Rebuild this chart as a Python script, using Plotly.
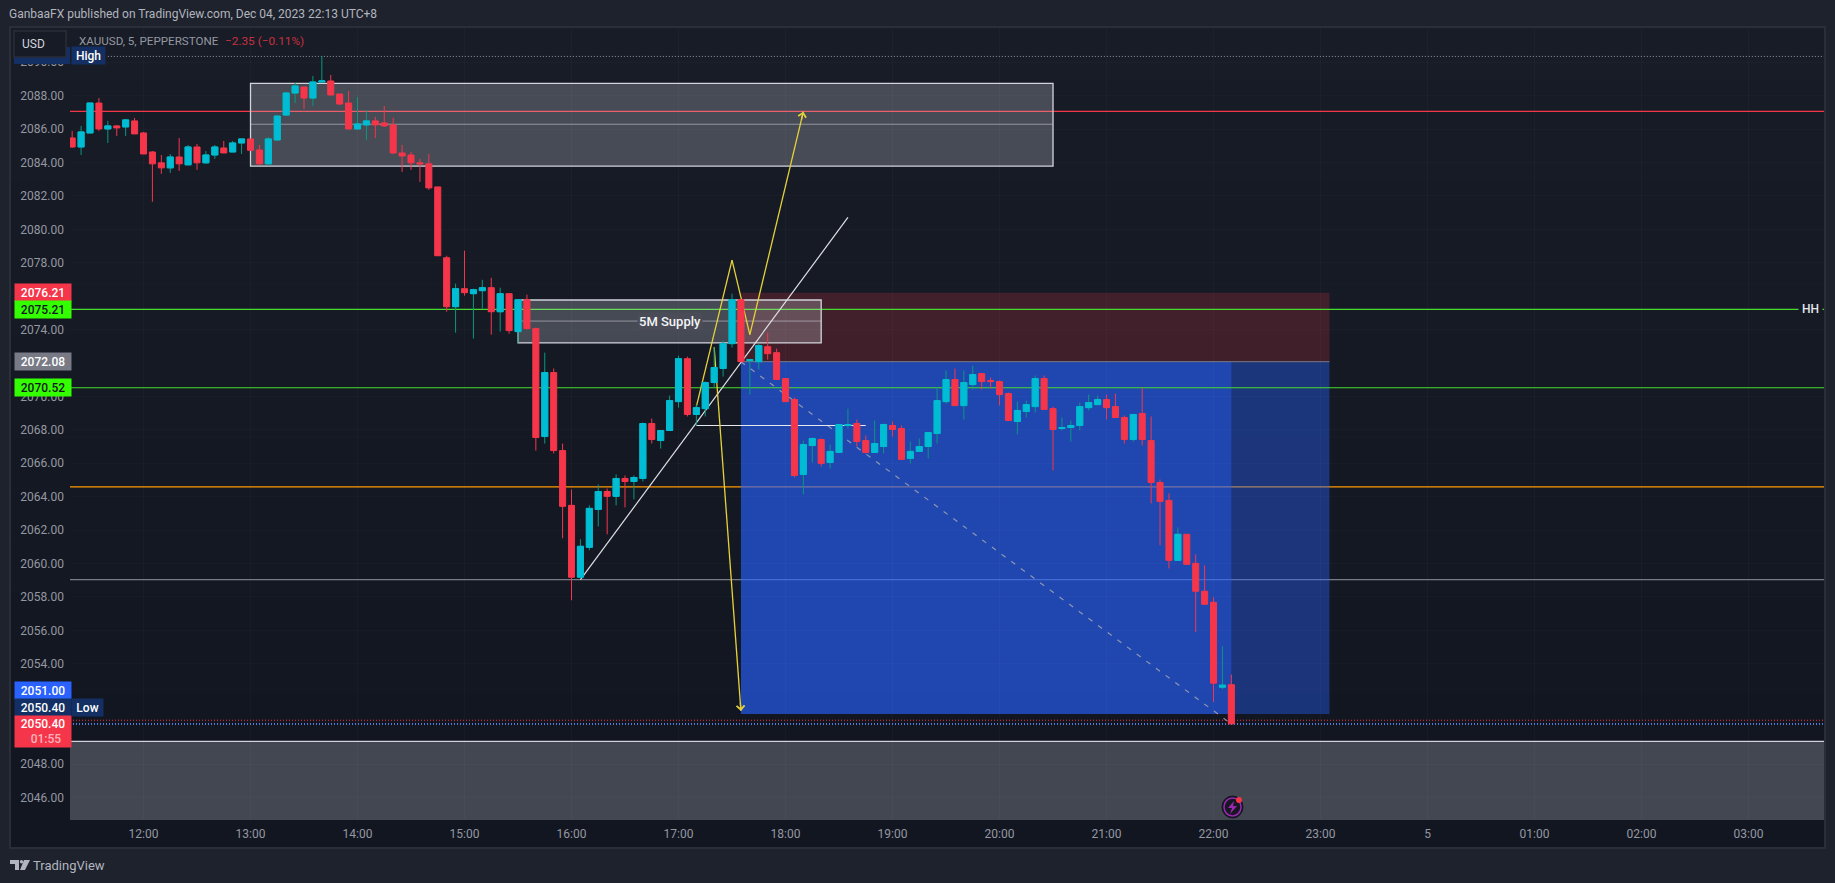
import pandas as pd
import plotly.graph_objects as go

# 5 minute bars, first bar 11:20
bar_opens = [2085.47,2084.93,2085.77,2087.56,2086.01,2086.19,2086.13,2086.49,2085.77,2084.63,
    2083.98,2083.68,2084.33,2083.86,2084.93,2083.98,2084.45,2084.87,2084.63,2085.17,
    2085.41,2084.75,2083.92,2085.35,2086.84,2088.16,2088.52,2087.86,2088.82,2088.88,
    2088.10,2087.56,2086.01,2086.25,2086.49,2086.37,2086.25,2084.57,2084.45,2083.98,
    2083.92,2082.54,2078.30,2075.37,2076.45,2076.15,2076.33,2076.51,2075.07,2076.15,
    2073.88,2075.79,2074.06,2067.60,2071.43,2066.76,2063.48,2059.18,2060.97,2063.24,
    2064.31,2064.02,2065.09,2064.91,2065.09,2068.38,2067.36,2067.96,2069.69,2072.26,
    2068.92,2069.27,2070.83,2071.67,2073.16,2075.79,2072.14,2072.08,2072.98,2072.62,
    2071.07,2069.81,2065.33,2067.06,2067.42,2066.05,2066.65,2068.26,2068.38,2067.36,
    2066.65,2067.00,2068.26,2068.08,2066.29,2066.71,2067.00,2067.78,2069.69,2071.01,
    2069.45,2070.71,2071.37,2070.95,2070.89,2070.17,2068.50,2069.10,2069.39,2071.07,
    2069.27,2068.08,2068.14,2068.26,2069.33,2069.51,2069.81,2069.39,2068.74,2067.42,
    2068.98,2067.36,2064.85,2063.78,2060.19,2061.75,2060.01,2058.34,2057.68,2052.60,
    2052.75]
bar_highs = [2085.89,2086.19,2087.56,2087.86,2086.49,2086.25,2086.61,2086.67,2085.83,2084.69,
    2084.45,2084.51,2085.47,2085.05,2085.11,2084.69,2085.05,2085.29,2085.29,2085.41,
    2085.41,2085.05,2085.53,2086.78,2088.22,2088.76,2088.52,2089.18,2090.37,2089.24,
    2088.10,2088.28,2087.92,2087.14,2086.73,2087.38,2086.67,2085.05,2084.63,2084.22,
    2084.51,2082.54,2078.42,2076.75,2078.72,2076.45,2076.98,2077.10,2076.51,2076.15,
    2075.79,2076.09,2074.12,2072.62,2071.67,2067.18,2064.43,2061.45,2063.48,2064.73,
    2064.49,2065.33,2065.27,2065.27,2068.44,2068.68,2067.96,2070.05,2072.44,2072.38,
    2069.51,2070.89,2072.92,2073.34,2076.15,2075.79,2072.20,2073.16,2073.82,2072.86,
    2071.07,2069.93,2067.36,2067.54,2067.48,2067.12,2068.32,2069.27,2068.62,2067.66,
    2068.56,2068.38,2068.50,2068.26,2067.30,2067.48,2067.84,2070.53,2071.55,2071.67,
    2071.55,2071.84,2071.37,2071.13,2070.95,2070.23,2069.69,2069.75,2071.25,2071.25,
    2069.39,2068.74,2068.56,2069.63,2070.11,2070.05,2070.11,2070.17,2068.86,2068.92,
    2070.51,2068.80,2065.03,2064.20,2062.16,2061.75,2060.55,2059.89,2057.98,2055.05,
    2053.36]
bar_lows = [2084.87,2084.45,2085.77,2085.89,2085.17,2085.59,2085.59,2085.71,2084.51,2081.65,
    2083.32,2083.38,2083.50,2083.86,2083.56,2083.92,2084.22,2084.57,2084.63,2084.51,
    2084.69,2083.86,2083.80,2085.35,2086.78,2087.56,2087.20,2087.38,2088.82,2088.04,
    2087.44,2085.95,2085.95,2085.35,2085.47,2086.13,2084.51,2083.44,2083.56,2082.84,
    2082.36,2078.42,2075.07,2073.82,2076.03,2073.46,2075.25,2073.70,2073.88,2073.76,
    2073.20,2074.00,2066.76,2067.18,2066.59,2061.51,2057.80,2059.18,2060.79,2062.22,
    2061.75,2063.48,2063.36,2063.84,2064.91,2067.18,2066.88,2067.96,2069.33,2068.80,
    2068.26,2068.80,2070.53,2071.19,2072.92,2072.08,2070.11,2071.61,2072.20,2071.01,
    2069.69,2065.15,2064.14,2066.05,2065.81,2065.69,2066.65,2068.08,2067.00,2066.59,
    2066.65,2066.59,2067.60,2066.23,2065.99,2066.71,2066.29,2067.18,2069.57,2069.45,
    2068.62,2070.41,2070.41,2070.47,2069.45,2068.56,2067.72,2068.74,2069.04,2069.22,
    2065.57,2067.96,2067.30,2067.96,2069.16,2069.51,2068.62,2068.74,2067.18,2067.30,
    2067.06,2063.60,2061.09,2059.71,2060.19,2059.95,2055.89,2057.56,2051.71,2052.48,
    2050.40]
bar_closes = [2084.93,2085.83,2087.56,2086.01,2086.19,2086.07,2086.55,2085.71,2084.51,2083.92,
    2083.68,2084.33,2083.92,2084.93,2083.98,2084.45,2084.93,2084.57,2085.17,2085.41,
    2084.73,2083.92,2085.41,2086.78,2088.16,2088.58,2087.86,2088.82,2088.88,2088.04,
    2087.50,2086.01,2086.31,2086.49,2086.25,2086.19,2084.57,2084.39,2083.98,2083.92,
    2082.48,2078.42,2075.37,2076.45,2076.21,2076.39,2076.51,2075.07,2076.15,2073.94,
    2075.79,2074.06,2067.54,2071.43,2066.76,2063.42,2059.18,2061.03,2063.30,2064.31,
    2064.02,2065.09,2064.91,2065.15,2068.38,2067.42,2067.96,2069.75,2072.26,2068.92,
    2069.33,2070.83,2071.73,2073.16,2075.79,2072.08,2072.20,2073.04,2072.56,2071.01,
    2069.69,2065.27,2067.12,2067.48,2065.99,2066.71,2068.32,2068.32,2067.30,2066.65,
    2067.18,2068.32,2068.02,2066.23,2066.71,2067.00,2067.84,2069.75,2071.01,2069.45,
    2070.83,2071.31,2070.89,2070.89,2070.11,2068.56,2069.16,2069.51,2071.07,2069.22,
    2068.02,2068.14,2068.26,2069.39,2069.63,2069.81,2069.33,2068.74,2067.42,2068.92,
    2067.42,2064.85,2063.72,2060.19,2061.75,2059.95,2058.34,2057.56,2052.84,2052.72,
    2050.40]

# 2050, 2052, 2072 and 2076 sit fully behind the price boxes
price_ticks = [2046,2048,2054,2056,2058,2060,2062,2064,2066,2068,2070,2074,
    2078,2080,2082,2084,2086,2088,2090]
time_ticks = ["2023-12-04 12:00","2023-12-04 13:00","2023-12-04 14:00","2023-12-04 15:00",
    "2023-12-04 16:00","2023-12-04 17:00","2023-12-04 18:00","2023-12-04 19:00","2023-12-04 20:00",
    "2023-12-04 21:00","2023-12-04 22:00","2023-12-04 23:00","2023-12-05 00:00","2023-12-05 01:00",
    "2023-12-05 02:00","2023-12-05 03:00"]
time_labels = ["12:00","13:00","14:00","15:00","16:00","17:00","18:00","19:00","20:00","21:00",
    "22:00","23:00","5","01:00","02:00","03:00"]

# drawn levels
high_price = 2090.35
low_price = 2050.40
last_dotted = 2050.62
red_level = 2087.06
green_levels = [2075.21, 2070.52]
orange_level = 2064.59
grey_level = 2059.04
floor_zone = 2049.35

top_zone = [2088.74, 2086.29, 2083.78]
supply_zone = [2075.77, 2074.51, 2073.20]
entry = 2072.08
stop = 2076.21
target = 2051.00

yellow_times = ["2023-12-04 17:10","2023-12-04 17:30","2023-12-04 17:40","2023-12-04 18:10"]
yellow_prices = [2069.39, 2078.16, 2073.70, 2087.04]
arrow_down_times = ["2023-12-04 17:20","2023-12-04 17:35"]
arrow_down_prices = [2072.94, 2051.18]
trend_times = ["2023-12-04 16:05","2023-12-04 18:35"]
trend_prices = [2059.03, 2080.71]
neck_times = ["2023-12-04 17:10","2023-12-04 18:45"]
neck_price = 2068.26

bar_times = pd.date_range("2023-12-04 11:20", periods=len(bar_opens), freq="5min")
up = [i for i in range(len(bar_opens)) if bar_closes[i] >= bar_opens[i]]
down = [i for i in range(len(bar_opens)) if bar_closes[i] < bar_opens[i]]

FONT = "Roboto"
BULL = "#00BCD4"
BEAR = "#F5364A"
TEAL = "#089981"
NAVY = "#132F63"
GREEN = "#33FF00"
GREEN_LINE = "#46DC2E"
WHITEISH = "#D1D4DC"
TICK = "#9598A1"
X0 = "2023-12-04 11:18:47"
X1 = "2023-12-05 03:42:19"


# pixel position -> paper position, plot area is 70..1824 x 28..820
def px(x):
    return (x - 70) / 1754


def py(y):
    return (820 - y) / 792


def sel(values, idx):
    return [values[i] for i in idx]


fig = go.Figure()

# up bars: teal wick under cyan body
fig.add_trace(go.Candlestick(x=bar_times[up], open=sel(bar_opens, up), high=sel(bar_highs, up),
    low=sel(bar_lows, up), close=sel(bar_closes, up), showlegend=False,
    increasing=dict(line=dict(color=TEAL, width=1), fillcolor="rgba(0,0,0,0)")))
fig.add_trace(go.Candlestick(x=bar_times[up], open=sel(bar_opens, up),
    high=[max(bar_opens[i], bar_closes[i]) for i in up],
    low=[min(bar_opens[i], bar_closes[i]) for i in up],
    close=sel(bar_closes, up), showlegend=False,
    increasing=dict(line=dict(color=BULL, width=1), fillcolor=BULL)))
fig.add_trace(go.Candlestick(x=bar_times[down], open=sel(bar_opens, down), high=sel(bar_highs, down),
    low=sel(bar_lows, down), close=sel(bar_closes, down), showlegend=False,
    decreasing=dict(line=dict(color=BEAR, width=1), fillcolor=BEAR)))

shapes = []

# panel background, slightly lighter at the top
strips = 16
for i in range(strips):
    t = i / (strips - 1)
    col = "rgb(%d,%d,%d)" % (24 - 6 * t, 28 - 6 * t, 39 - 6 * t)
    shapes.append(dict(type="rect", xref="paper", yref="paper", layer="below", x0=px(10), x1=px(1825),
        y0=py(27 + 821 * i / strips), y1=py(27 + 821 * (i + 1) / strips), fillcolor=col, line_width=0))
shapes.append(dict(type="rect", xref="paper", yref="paper", layer="below", x0=px(10), x1=px(1825),
    y0=py(27), y1=py(848), line=dict(color="#2A2E39", width=2)))


def hline(price, color, width=1, dash="solid", x0=X0, x1=X1):
    shapes.append(dict(type="line", xref="x", yref="y", layer="below", x0=x0, x1=x1, y0=price, y1=price,
        line=dict(color=color, width=width, dash=dash)))


def zone(x0, x1, y0, y1, fill, line=None):
    shapes.append(dict(type="rect", xref="x", yref="y", layer="below", x0=x0, x1=x1, y0=y0, y1=y1,
        fillcolor=fill, line=line or dict(width=0)))


hline(high_price, "#9598A1", dash="1px,2px", x0="2023-12-04 11:40")
hline(red_level, "#F23645", width=1.2)
hline(orange_level, "#FF9800", width=1.2)
hline(grey_level, "#787B86", width=1.2)
zone(X0, X1, 2040, floor_zone, "rgba(209,212,220,0.26)")
hline(floor_zone, WHITEISH, width=1.2)

# short position tool
zone("2023-12-04 17:35", "2023-12-04 23:05", entry, stop, "rgba(242,54,69,0.20)")
zone("2023-12-04 17:35", "2023-12-04 23:05", target, entry, "rgba(41,98,255,0.40)")
zone("2023-12-04 17:35", "2023-12-04 22:10", target, entry, "rgba(41,98,255,0.40)")
hline(entry, "#787B86", x0="2023-12-04 17:35", x1="2023-12-04 23:05")

hline(green_levels[0], GREEN_LINE, width=1.2)
hline(green_levels[1], GREEN_LINE, width=1.2)

white_border = dict(color=WHITEISH, width=1.3)
zone("2023-12-04 13:00", "2023-12-04 20:30", top_zone[2], top_zone[0], "rgba(209,212,220,0.26)", white_border)
hline(top_zone[1], "rgba(209,212,220,0.55)", x0="2023-12-04 13:00", x1="2023-12-04 20:30")
zone("2023-12-04 15:30", "2023-12-04 18:20", supply_zone[2], supply_zone[0], "rgba(209,212,220,0.26)", white_border)
hline(supply_zone[1], "rgba(209,212,220,0.55)", x0="2023-12-04 15:30", x1="2023-12-04 18:20")

hline(last_dotted, "#F23645", dash="1px,2px")
hline(low_price, "#5B7BE0", width=2, dash="1px,2px")

shapes.append(dict(type="line", xref="x", yref="y", layer="below", x0="2023-12-04 17:35", x1="2023-12-04 22:10",
    y0=entry, y1=low_price, line=dict(color="rgba(170,170,180,0.8)", width=1.2, dash="5px,7px")))
hline(neck_price, "#E8E9EE", x0=neck_times[0], x1=neck_times[1])
shapes.append(dict(type="line", xref="x", yref="y", layer="below", x0=trend_times[0], x1=trend_times[1],
    y0=trend_prices[0], y1=trend_prices[1], line=dict(color="#E0E1E6", width=1.2)))
for i in range(len(yellow_times) - 1):
    shapes.append(dict(type="line", xref="x", yref="y", layer="below", x0=yellow_times[i], x1=yellow_times[i + 1],
        y0=yellow_prices[i], y1=yellow_prices[i + 1], line=dict(color="#E5D23A", width=1.3)))
shapes.append(dict(type="line", xref="x", yref="y", layer="below", x0=arrow_down_times[0], x1=arrow_down_times[1],
    y0=arrow_down_prices[0], y1=arrow_down_prices[1], line=dict(color="#E5D23A", width=1.3)))

# price scale boxes that sit on top of the tick labels
shapes.append(dict(type="rect", xref="paper", yref="paper", x0=px(14), x1=px(70), y0=py(47), y1=py(64),
    fillcolor=NAVY, line_width=0))
shapes.append(dict(type="rect", xref="paper", yref="paper", x0=px(14), x1=px(66), y0=py(31), y1=py(57),
    fillcolor="#171B26", line=dict(color="#2A2E39", width=1.5)))

# TradingView logo
logo = "M%f,%f H%f V%f H%f V%f H%f Z" % (px(10), py(860), px(19), py(870), px(15), py(864), px(10))
logo += " M%f,%f H%f L%f,%f H%f Z" % (px(24), py(860), px(30), px(25), py(870), px(20))
shapes.append(dict(type="path", xref="paper", yref="paper", path=logo, fillcolor="#B2B5BE", line_width=0))
shapes.append(dict(type="circle", xref="paper", yref="paper", x0=px(19.8), x1=px(23.2), y0=py(860), y1=py(863.4),
    fillcolor="#B2B5BE", line_width=0))

# lightning badge
shapes.append(dict(type="circle", xref="paper", yref="paper", x0=px(1222), x1=px(1243), y0=py(796), y1=py(818),
    fillcolor="#131722", line=dict(color="#131722", width=1)))
shapes.append(dict(type="circle", xref="paper", yref="paper", x0=px(1224), x1=px(1241), y0=py(798), y1=py(816),
    fillcolor="#171723", line=dict(color="#9C27B0", width=1.5)))
bolt = "M%f,%f L%f,%f L%f,%f L%f,%f L%f,%f L%f,%f Z" % (px(1234), py(801), px(1228), py(808), px(1232), py(808),
    px(1230), py(814), px(1237), py(806), px(1233), py(806))
shapes.append(dict(type="path", xref="paper", yref="paper", path=bolt, fillcolor="#9C27B0", line_width=0))
shapes.append(dict(type="circle", xref="paper", yref="paper", x0=px(1236), x1=px(1242), y0=py(797), y1=py(803),
    fillcolor="#F23645", line_width=0))

annotations = []


def text(s, x, y, color, size=12, anchor="left", **kw):
    annotations.append(dict(text=s, x=px(x), y=py(y), xref="paper", yref="paper", xanchor=anchor, yanchor="middle",
        showarrow=False, font=dict(family=FONT, size=size, color=color), **kw))


def price_box(s, y, bg, color="#FFFFFF", h=17):
    annotations.append(dict(text=s, x=px(14), y=py(y), xref="paper", yref="paper", xanchor="left", yanchor="middle",
        width=56, height=h, align="center", valign="middle", bgcolor=bg, borderpad=0, showarrow=False,
        font=dict(family=FONT, size=12, color=color, weight=500)))


text("GanbaaFX published on TradingView.com, Dec 04, 2023 22:13 UTC+8", 7, 14, "#B2B5BE", size=12)
text("XAUUSD, 5, PEPPERSTONE", 76.5, 41, "#9598A1", size=11.6)
text("−2.35 (−0.11%)", 223, 41, "#C8303F", size=11.8)
text("USD", 33.5, 44, WHITEISH, size=12, anchor="center")
text("TradingView", 31, 865, "#B2B5BE", size=13)

price_box("2076.21", 292.5, "#F5364A")
price_box("2075.21", 309.5, GREEN, color="#131722")
price_box("2072.08", 361.5, "#787B86")
price_box("2070.52", 387.5, GREEN, color="#131722")
price_box("2051.00", 690.5, "#2962FF")
price_box("2050.40", 707.5, NAVY)
price_box("2050.40<br><span style='color:#FFB3BC'>  01:55</span>", 731.5, "#F5364A", h=31)

annotations.append(dict(text="High", x=px(71), y=py(55.5), xref="paper", yref="paper", xanchor="left", yanchor="middle",
    width=33, height=17, bgcolor=NAVY, borderpad=0, showarrow=False,
    font=dict(family=FONT, size=12, color="#FFFFFF", weight=500)))
annotations.append(dict(text="Low", x=px(71), y=py(707.5), xref="paper", yref="paper", xanchor="left", yanchor="middle",
    width=31, height=17, bgcolor=NAVY, borderpad=0, showarrow=False,
    font=dict(family=FONT, size=12, color="#FFFFFF", weight=500)))

annotations.append(dict(text="5M Supply", x="2023-12-04 16:55", y=supply_zone[1], xref="x", yref="y", showarrow=False,
    bgcolor="#4A4D58", borderpad=1, font=dict(family=FONT, size=13, color="#F4F5F7", weight=500)))
annotations.append(dict(text="HH", x=px(1810), y=green_levels[0], xref="paper", yref="y", xanchor="center", showarrow=False,
    bgcolor="#161A25", borderpad=3, font=dict(family=FONT, size=12, color="#E4E6EB", weight=500)))

# arrow heads of the two yellow arrows
annotations.append(dict(text="", x=yellow_times[-1], y=yellow_prices[-1], xref="x", yref="y", ax=-2.3, ay=9.7,
    showarrow=True, arrowhead=4, arrowsize=1.2, arrowwidth=1.3, arrowcolor="#E5D23A", standoff=0))
annotations.append(dict(text="", x=arrow_down_times[-1], y=arrow_down_prices[-1], xref="x", yref="y", ax=-0.7, ay=-10,
    showarrow=True, arrowhead=4, arrowsize=1.2, arrowwidth=1.3, arrowcolor="#E5D23A", standoff=0))

fig.update_layout(
    width=1835, height=883, autosize=False,
    margin=dict(l=70, r=11, t=28, b=63),
    paper_bgcolor="#1E222D", plot_bgcolor="rgba(0,0,0,0)",
    font=dict(family=FONT, size=12, color=TICK),
    showlegend=False, boxgap=0.32, boxgroupgap=0,
    shapes=shapes, annotations=annotations,
    xaxis=dict(type="date", range=[X0, X1], rangeslider=dict(visible=False), tickvals=time_ticks,
        ticktext=time_labels, showgrid=True, gridcolor="rgba(255,255,255,0.025)", zeroline=False,
        showline=False, ticks="", ticklabelstandoff=5, tickfont=dict(family=FONT, size=12, color=TICK)),
    yaxis=dict(range=[2044.65, 2092.05], tickvals=price_ticks, tickformat=".2f", showgrid=True,
        gridcolor="rgba(255,255,255,0.018)", zeroline=False, showline=False, ticks="",
        ticklabelstandoff=5, tickfont=dict(family=FONT, size=12, color=TICK)),
)

# the page's default 8px body margin would push the figure off the window
fig.write_html("out.html", config={"displayModeBar": False},
    post_script="document.body.style.margin='0';document.body.style.overflow='hidden';")
